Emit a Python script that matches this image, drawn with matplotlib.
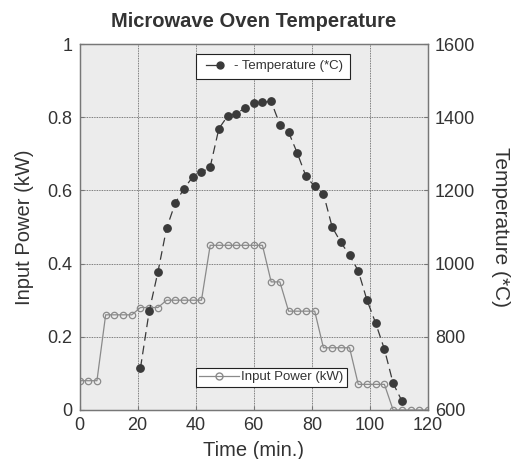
import matplotlib
matplotlib.use("Agg")
import matplotlib.pyplot as plt
from matplotlib.lines import Line2D
from matplotlib.legend_handler import HandlerLine2D

plt.rcParams['font.family'] = ['Liberation Sans', 'DejaVu Sans']

# ---- data ----
power_time = [0, 3, 6, 9, 12, 15, 18, 21, 24, 27, 30, 33, 36, 39, 42, 45, 48, 51, 54, 57,
              60, 63, 66, 69, 72, 75, 78, 81, 84, 87, 90, 93, 96, 99, 102, 105, 108, 111,
              114, 117, 120]
power_kw = [0.08, 0.08, 0.08, 0.26, 0.26, 0.26, 0.26, 0.28, 0.28, 0.28, 0.30, 0.30, 0.30,
            0.30, 0.30, 0.45, 0.45, 0.45, 0.45, 0.45, 0.45, 0.45, 0.35, 0.35, 0.27, 0.27,
            0.27, 0.27, 0.17, 0.17, 0.17, 0.17, 0.07, 0.07, 0.07, 0.07, 0, 0, 0, 0, 0]

temp_time = [21, 24, 27, 30, 33, 36, 39, 42, 45, 48, 51, 54, 57, 60, 63, 66, 69, 72, 75, 78,
             81, 84, 87, 90, 93, 96, 99, 102, 105, 108, 111]
temp_c = [715, 870, 977, 1097, 1166, 1205, 1237, 1249, 1264, 1369, 1403, 1410, 1425, 1439,
          1441, 1443, 1380, 1359, 1302, 1238, 1211, 1191, 1100, 1058, 1023, 980, 900, 837,
          766, 673, 625]

x_ticks = [0, 20, 40, 60, 80, 100, 120]
left_ticks = [0, 0.2, 0.4, 0.6, 0.8, 1]
left_labels = ["0", "0.2", "0.4", "0.6", "0.8", "1"]
right_ticks = [600, 800, 1000, 1200, 1400, 1600]

title = "Microwave Oven Temperature"
xlabel = "Time (min.)"
ylabel_left = "Input Power (kW)"
ylabel_right = "Temperature (*C)"
legend_temp = "- Temperature (*C)"
legend_power = "Input Power (kW)"

# ---- styling ----
bg = "#ececec"
power_col = "#8a8a8a"
temp_col = "#3a3a3a"
text_col = "#333333"


class EndMarkerHandler(HandlerLine2D):
    """Legend handle: a short line with a single marker at its right end."""
    def create_artists(self, legend, orig_handle, xdescent, ydescent, width, height,
                       fontsize, trans):
        artists = super().create_artists(legend, orig_handle, xdescent, ydescent, width,
                                         height, fontsize, trans)
        for art in artists:
            n = len(art.get_xdata())
            art.set_markevery([n - 1])
        return artists


fig = plt.figure(figsize=(5.15, 4.59), dpi=100)
ax = fig.add_axes([0.1544, 0.1068, 0.6766, 0.7973])
ax.set_facecolor(bg)
ax2 = ax.twinx()

ax.plot(power_time, power_kw, color=power_col, lw=0.9, marker='o', ms=4.6,
        mfc='none', mec=power_col, mew=0.9, zorder=3)
ax2.plot(temp_time, temp_c, color=temp_col, lw=0.9, linestyle=(0, (7, 4)),
         marker='o', ms=5.3, mfc=temp_col, mec=temp_col, zorder=3)

ax.set_xlim(0, 120)
ax.set_ylim(0, 1)
ax2.set_ylim(600, 1600)
ax.set_xticks(x_ticks)
ax.set_yticks(left_ticks)
ax.set_yticklabels(left_labels)
ax2.set_yticks(right_ticks)

ax.grid(True, color="#555555", linestyle=(0, (1, 1)), linewidth=0.6)
ax.set_axisbelow(True)

for a in (ax, ax2):
    for s in a.spines.values():
        s.set_color("#777777")
        s.set_linewidth(0.9)
    a.tick_params(direction='in', length=3, color="#777777", labelsize=13,
                  labelcolor=text_col, pad=5)

ax.set_title(title, fontsize=14.5, fontweight='bold', color=text_col, pad=12)
ax.set_xlabel(xlabel, fontsize=14.5, color=text_col, labelpad=5)
ax.set_ylabel(ylabel_left, fontsize=14.5, color=text_col, labelpad=10)
ax2.set_ylabel(ylabel_right, fontsize=15, color=text_col, rotation=270, labelpad=25)

h_temp = Line2D([], [], color=temp_col, lw=0.9, marker='o', ms=5, mfc=temp_col,
                mec=temp_col)
h_pow = Line2D([], [], color=power_col, lw=0.9, marker='o', ms=5, mfc='none', mec=power_col)

leg1 = ax2.legend([h_temp], [legend_temp], loc='upper left', bbox_to_anchor=(0.315, 0.992),
                  fontsize=9.5, frameon=True, fancybox=False, edgecolor='#222222',
                  framealpha=1, handlelength=1.6, handletextpad=0.8, borderpad=0.5,
                  labelcolor=text_col, handler_map={h_temp: EndMarkerHandler(numpoints=2)})
leg1.get_frame().set_linewidth(0.8)
leg2 = ax2.legend([h_pow], [legend_power], loc='upper left', bbox_to_anchor=(0.315, 0.133),
                  fontsize=9.5, frameon=True, fancybox=False, edgecolor='#222222',
                  framealpha=1, handlelength=3.0, handletextpad=0.2, borderpad=0.25,
                  labelcolor=text_col)
leg2.get_frame().set_linewidth(0.8)
ax2.add_artist(leg1)

fig.savefig("out.png", dpi=100)
